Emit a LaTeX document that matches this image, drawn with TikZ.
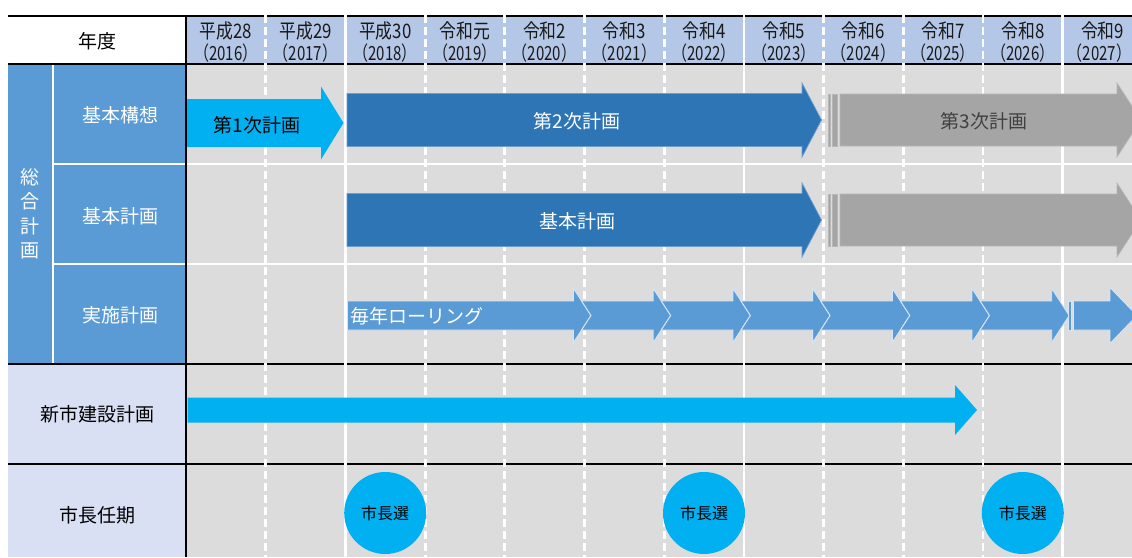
\documentclass[tikz,border=0pt]{standalone}
\usepackage{fontspec}
\setmainfont{Noto Sans CJK JP}
\newfontfamily\condfont[FakeStretch=0.84]{Noto Sans CJK JP}
\newfontfamily\narrowfont[FakeStretch=0.77]{Noto Sans CJK JP}
\definecolor{hdr}{HTML}{B4C7E7}
\definecolor{lblue}{HTML}{5B9BD5}
\definecolor{lav}{HTML}{D9E0F3}
\definecolor{gridc}{HTML}{DCDCDC}
\definecolor{cyanA}{HTML}{00B0F0}
\definecolor{dblue}{HTML}{2E75B6}
\definecolor{garr}{HTML}{A5A5A5}
\definecolor{gtext}{HTML}{404040}
\definecolor{chevline}{HTML}{D6E5F5}
\newcommand{\arrowpath}[6]{(#1,{#4-#5}) -- (#2,{#4-#5}) -- (#2,{#4-#6}) -- (#3,#4) -- (#2,{#4+#6}) -- (#2,{#4+#5}) -- (#1,{#4+#5}) -- cycle}
\newcommand{\chevpath}[7]{(#2,{#5-#6}) -- (#3,{#5-#6}) -- (#3,{#5-#7}) -- (#4,#5) -- (#3,{#5+#7}) -- (#3,{#5+#6}) -- (#2,{#5+#6}) -- (#1,#5) -- cycle}
\begin{document}
\begin{tikzpicture}[x=1pt,y=-1pt,
  every node/.style={inner sep=0pt,outer sep=0pt},
  lbl/.style={font=\fontsize{19}{19}\selectfont},
  hdrone/.style={font=\condfont\fontsize{20}{20}\selectfont,text=black!90},
  hdrtwo/.style={font=\narrowfont\fontsize{19.5}{19.5}\selectfont,text=black!90},
  divsolid/.style={draw=white,line width=2.8pt},
  divdash/.style={draw=white,line width=2.8pt,dash pattern=on 8pt off 4pt},
  blk/.style={draw=black,line width=2pt},
  sep/.style={draw=white,line width=2.8pt},
  darrow/.style={fill=dblue,draw=dblue!70!white,line width=0.7pt},
  garrow/.style={fill=garr,draw=garr!80!white,line width=0.7pt},
  carrow/.style={fill=cyanA},
  chev/.style={fill=lblue,draw=chevline,line width=0.9pt},
  elect/.style={circle,fill=cyanA,minimum size=82pt,font=\fontsize{16}{16}\selectfont}
]
\useasboundingbox (0,0) rectangle (1132,557);
\fill[white] (0,0) rectangle (1132,557);
\fill[gridc] (186,64) rectangle (1132,557);
\fill[hdr] (186,16) rectangle (1132,64);
\fill[lblue] (8,64) rectangle (186,363);
\fill[lav] (8,363) rectangle (186,557);
% white separators
\draw[sep] (53,64) -- (53,363);
\draw[sep] (53,164) -- (1132,164);
\draw[sep] (53,264) -- (1132,264);
% black horizontals
\draw[blk] (8,16) -- (1132,16);
\draw[blk] (8,64) -- (1132,64);
\draw[blk] (8,363.5) -- (1132,363.5);
\draw[blk] (8,463.5) -- (1132,463.5);
% column dividers
\foreach \i in {1,3,4,5,6,8,9,10} \draw[divdash] ({186+79.7*\i},15) -- ({186+79.7*\i},557);
\foreach \i in {2,7,11} \draw[divsolid] ({186+79.7*\i},15) -- ({186+79.7*\i},557);
\draw[blk] (186,15) -- (186,557);
% header labels
\foreach \i/\a/\b in {0/平成28/2016,1/平成29/2017,2/平成30/2018,3/令和元/2019,4/令和2/2020,5/令和3/2021,6/令和4/2022,7/令和5/2023,8/令和6/2024,9/令和7/2025,10/令和8/2026,11/令和9/2027}{
  \pgfmathsetmacro{\cx}{186+79.7*(\i+0.5)}
  \pgfmathsetmacro{\cxb}{min(\cx,1099.5)}
  \node[hdrone] (ya\i) at (\cx,30.5) {\a};
  \node[hdrtwo] (yb\i) at (\cxb,53) {（\b）};
}
% row labels
\node[lbl] (nendo) at (97,41) {年度};
\node[lbl,text=white] (kousou) at (120,115) {基本構想};
\node[lbl,text=white] (kihon) at (120,216) {基本計画};
\node[lbl,text=white] (jisshi) at (120,315) {実施計画};
\node[font=\fontsize{19}{24.5}\selectfont,text=white,align=center] (sougou) at (30,214) {総\\合\\計\\画};
\node[lbl] (shinshi) at (97,414) {新市建設計画};
\node[lbl] (nincho) at (97,515) {市長任期};
% row 1 arrows
\fill[carrow] \arrowpath{187}{321}{343.5}{123}{24}{36.5};
\path[darrow] \arrowpath{347}{802}{821.5}{120}{26.5}{37};
\path[garrow] (828.3,94) rectangle (830.7,146);
\path[garrow] (832.7,94) rectangle (837.3,146);
\path[garrow] \arrowpath{840}{1117}{1141}{120}{26}{37};
\node[lbl] (t1) at (257,125) {第1次計画};
\node[lbl,text=white] (t2) at (577,121) {第2次計画};
\node[lbl,text=gtext] (t3) at (984,121) {第3次計画};
% row 2 arrows
\path[darrow] \arrowpath{347}{802}{821.5}{220}{26.5}{37};
\path[garrow] (828.3,194) rectangle (830.7,246);
\path[garrow] (832.7,194) rectangle (837.3,246);
\path[garrow] \arrowpath{840}{1117}{1141}{220}{26}{37};
\node[lbl,text=white] (t4) at (577,221) {基本計画};
% row 3 chevrons
\path[chev] \arrowpath{347.5}{573.5}{591}{315.5}{14.5}{27};
\foreach \k in {1,...,6}{
  \pgfmathsetmacro{\tp}{591+79.7*(\k-1)}
  \pgfmathsetmacro{\tb}{\tp-9.4}
  \pgfmathsetmacro{\tt}{591+79.7*\k}
  \pgfmathsetmacro{\hh}{\tt-17.5}
  \path[chev] \chevpath{\tp}{\tb}{\hh}{\tt}{315.5}{14.5}{27};
}
\path[chev] (1068,301) rectangle (1071,330);
\path[chev] \arrowpath{1073.5}{1110}{1137}{315.5}{14.5}{28};
\node[lbl,text=white,anchor=west] (t5) at (350,316) {毎年ローリング};
% row 4 arrow
\fill[carrow] \arrowpath{187.5}{955}{977}{410}{12.5}{25};
% row 5 circles
\node[elect] (c1) at (385.2,513) {市長選};
\node[elect] (c2) at (704,513) {市長選};
\node[elect] (c3) at (1022.8,513) {市長選};
\end{tikzpicture}
\end{document}
